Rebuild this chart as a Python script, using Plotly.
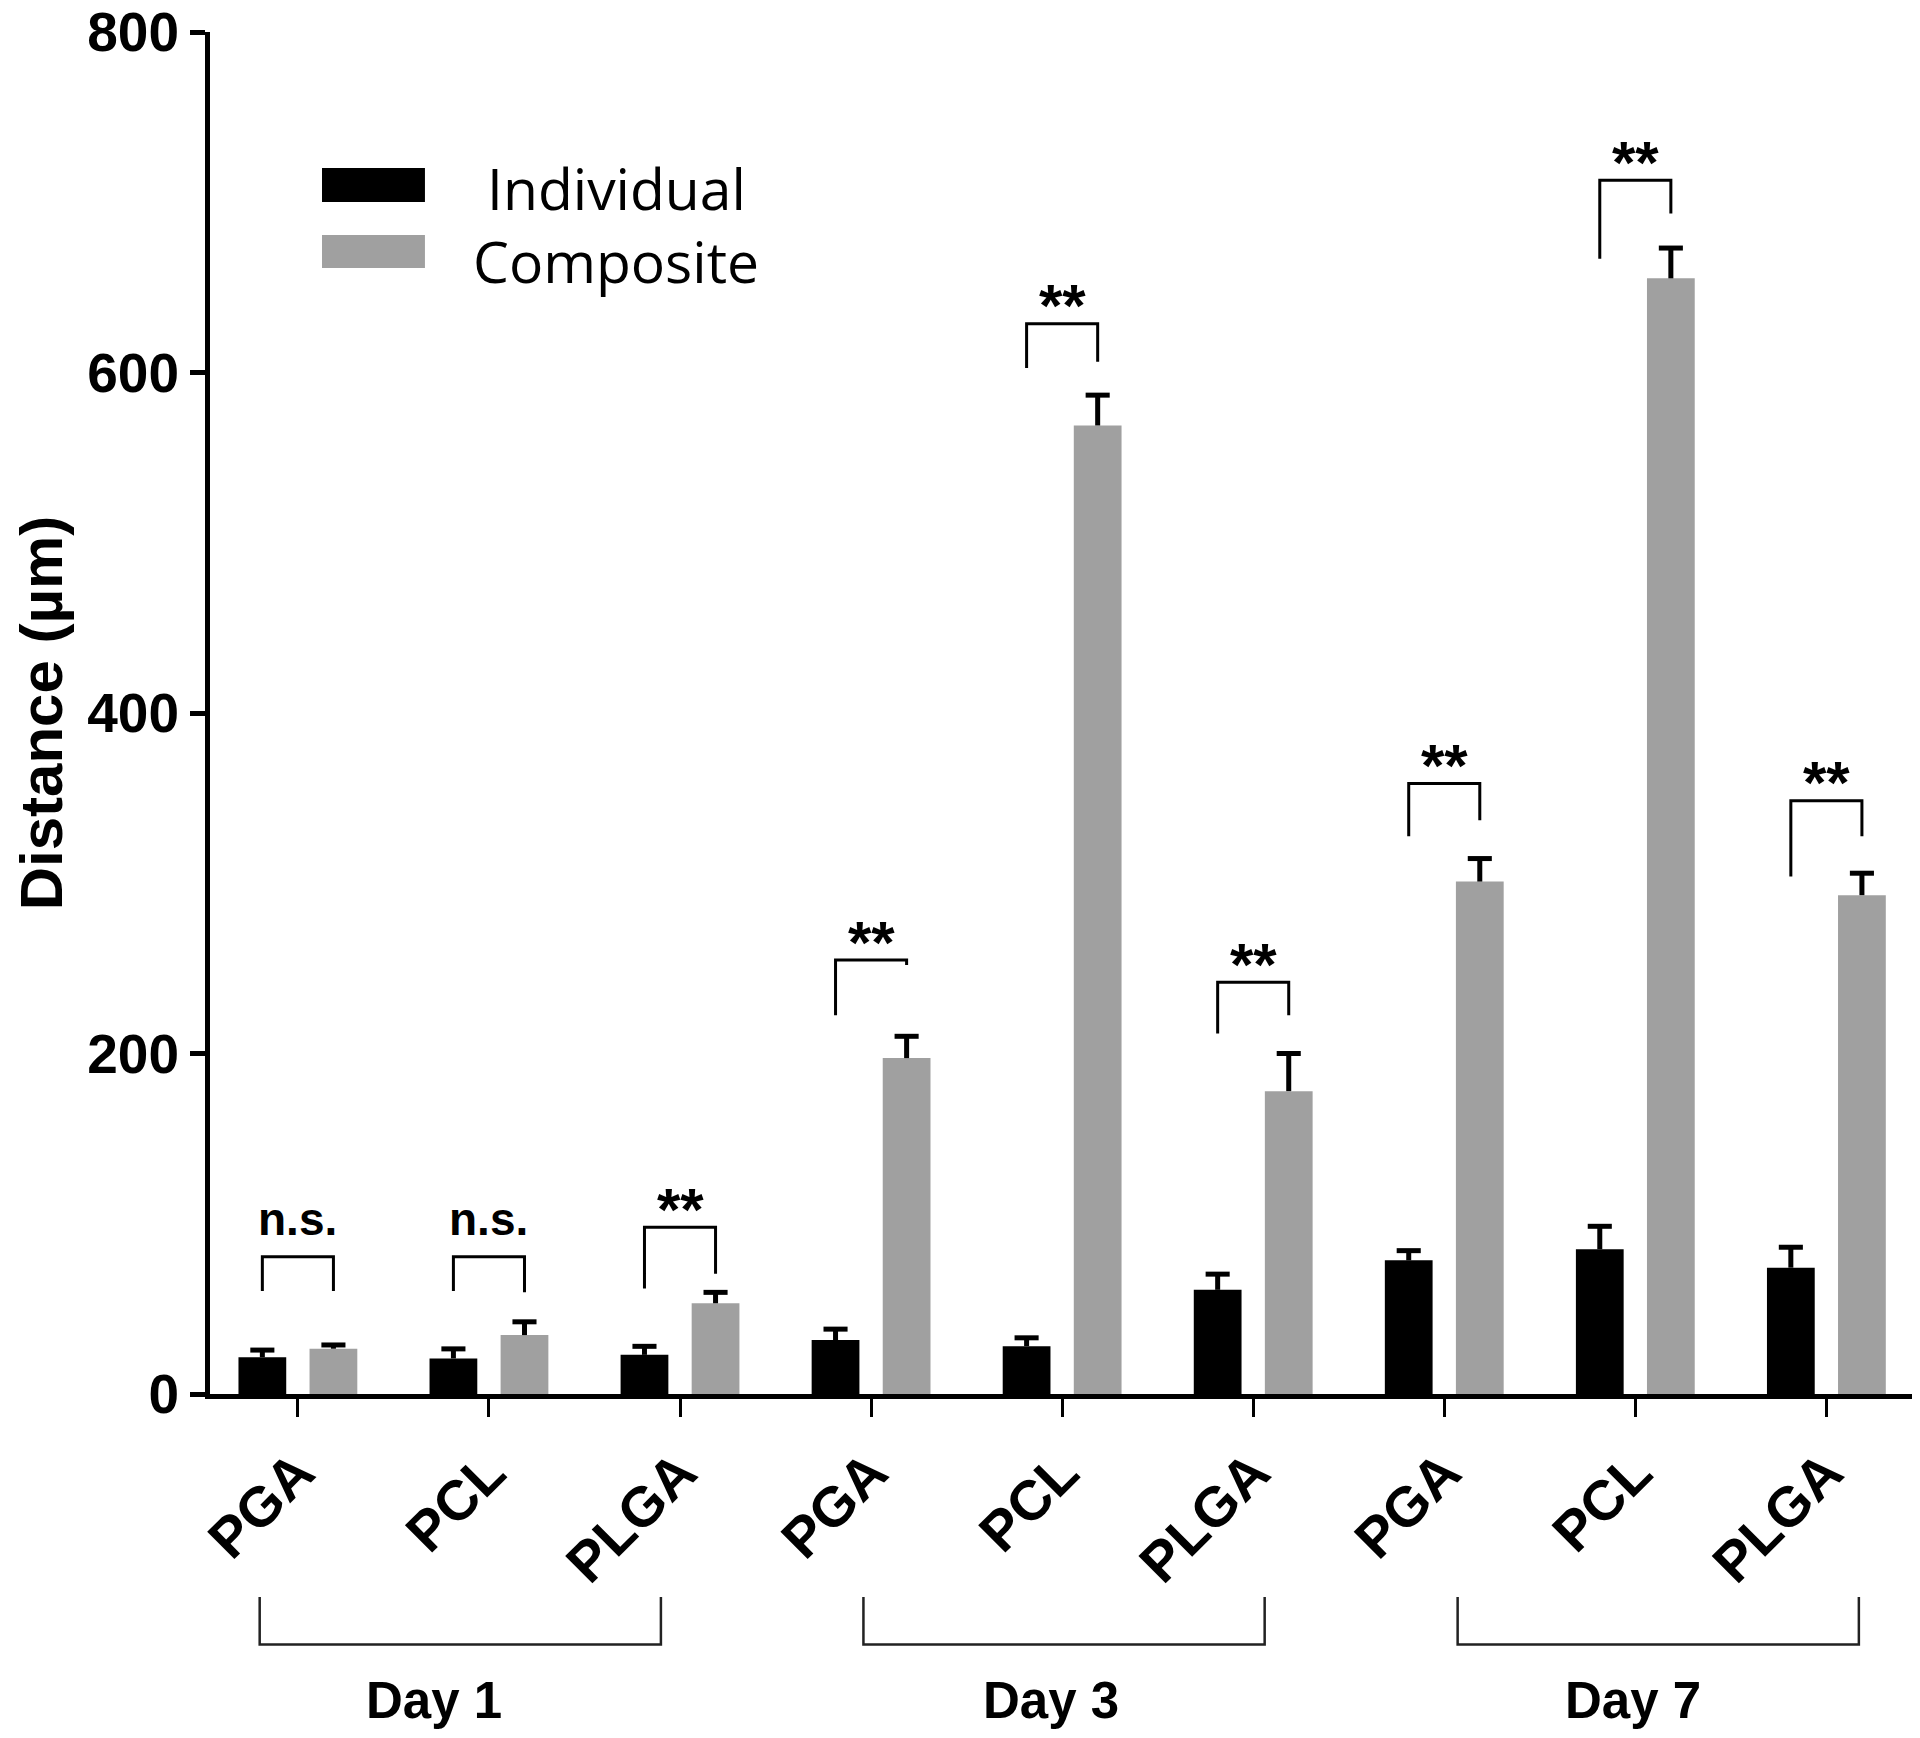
import plotly.graph_objects as go

materials = ["PGA", "PCL", "PLGA", "PGA", "PCL", "PLGA", "PGA", "PCL", "PLGA"]
days = ["Day 1", "Day 3", "Day 7"]

individual = [21.6, 20.9, 23.0, 31.7, 28.1, 61.2, 78.5, 85.0, 74.2]
individual_err = [4.2, 5.6, 5.0, 6.4, 4.9, 9.2, 5.7, 13.5, 12.0]
composite = [26.6, 34.6, 53.3, 197.3, 568.9, 177.9, 301.0, 655.3, 293.0]
composite_err = [2.2, 7.8, 6.4, 12.8, 17.8, 22.1, 13.5, 17.8, 12.9]

sig_labels = ["n.s.", "n.s.", "**", "**", "**", "**", "**", "**", "**"]
sig_top = [80.6, 80.6, 97.9, 254.9, 628.6, 241.9, 358.6, 712.9, 348.5]
sig_left = [60.5, 60.5, 61.9, 222.5, 602.7, 211.7, 327.6, 666.8, 303.9]
sig_right = [60.5, 59.8, 70.6, 252.0, 606.3, 222.5, 337.0, 693.4, 327.6]

FONT = "Liberation Sans, Arial, sans-serif"
BLACK = "#000000"
GREY = "#a0a0a0"
off = 0.186      # bar centre offset from tick
bw = 0.25        # bar width
cw = 0.063       # error cap half width

xs = list(range(len(materials)))
x_ind = [i - off for i in xs]
x_comp = [i + off for i in xs]

fig = go.Figure()
fig.add_trace(go.Bar(x=x_ind, y=individual, width=bw, name="Individual",
                     marker=dict(color=BLACK, line_width=0)))
fig.add_trace(go.Bar(x=x_comp, y=composite, width=bw, name="Composite",
                     marker=dict(color=GREY, line_width=0)))

# upper-only error bars
ex, ey = [], []
for xv, v, e in list(zip(x_ind, individual, individual_err)) + list(zip(x_comp, composite, composite_err)):
    ex += [xv, xv, None, xv - cw, xv + cw, None]
    ey += [v, v + e, None, v + e, v + e, None]
fig.add_trace(go.Scatter(x=ex, y=ey, mode="lines", line=dict(color=BLACK, width=5),
                         hoverinfo="skip", cliponaxis=False))

# significance brackets
bx, by = [], []
for i in xs:
    bx += [x_ind[i], x_ind[i], x_comp[i], x_comp[i], None]
    by += [sig_left[i], sig_top[i], sig_top[i], sig_right[i], None]
fig.add_trace(go.Scatter(x=bx, y=by, mode="lines", line=dict(color=BLACK, width=3),
                         hoverinfo="skip", cliponaxis=False))

for i in xs:
    star = sig_labels[i] == "**"
    fig.add_annotation(x=i, y=sig_top[i], xref="x", yref="y", text=sig_labels[i],
                       showarrow=False, yanchor="middle",
                       yshift=18 if star else 38,
                       font=dict(family=FONT, size=60 if star else 46, color=BLACK,
                                 weight="bold"))

# day group brackets below axis
groups = [(-0.2, 1.9, 0.71), (2.96, 5.06, 3.94), (6.07, 8.17, 6.99)]
for (g0, g1, gl), d in zip(groups, days):
    fig.add_shape(type="path", xref="x", yref="paper",
                  path=f"M {g0},-0.149 L {g0},-0.184 L {g1},-0.184 L {g1},-0.149",
                  line=dict(color="#222222", width=2.5))
    fig.add_annotation(x=gl, y=-0.225, xref="x", yref="paper", text=d, showarrow=False,
                       yanchor="middle",
                       font=dict(family=FONT, size=51, color=BLACK, weight="bold"))

# legend drawn by hand
fig.add_shape(type="rect", xref="paper", yref="paper", x0=0.0655, x1=0.1257,
              y0=0.8752, y1=0.9001, fillcolor=BLACK, line_width=0)
fig.add_shape(type="rect", xref="paper", yref="paper", x0=0.0655, x1=0.1257,
              y0=0.8267, y1=0.851, fillcolor=GREY, line_width=0)
for txt, yy in [("Individual", 0.8855), ("Composite", 0.8319)]:
    fig.add_annotation(x=0.2375, y=yy, xref="paper", yref="paper", text=txt,
                       showarrow=False, xanchor="center", yanchor="middle",
                       font=dict(family="Open Sans, sans-serif", size=57, color=BLACK))

fig.update_layout(
    width=1920, height=1738,
    margin=dict(l=202, r=8, t=24, b=352, autoexpand=False),
    paper_bgcolor="white", plot_bgcolor="white",
    barmode="overlay", showlegend=False,
    font=dict(family=FONT, color=BLACK),
)
fig.update_xaxes(range=[-0.46, 8.49], tickmode="array", tickvals=xs, ticktext=materials,
                 tickangle=-45, showline=True, linecolor=BLACK, linewidth=5,
                 ticks="outside", ticklen=18, tickwidth=3, tickcolor=BLACK,
                 showgrid=False, zeroline=False, ticklabeloverflow="allow",
                 automargin=False,
                 tickfont=dict(family=FONT, size=56, color=BLACK, weight="bold"))
fig.update_yaxes(range=[0, 800], tickvals=[0, 200, 400, 600, 800],
                 showline=True, linecolor=BLACK, linewidth=5,
                 ticks="outside", ticklen=15, tickwidth=5, tickcolor=BLACK,
                 showgrid=False, zeroline=False, ticklabeloverflow="allow",
                 automargin=False,
                 tickfont=dict(family=FONT, size=55, color=BLACK, weight="bold"),
                 title=dict(text="Distance (µm)", standoff=28,
                            font=dict(family=FONT, size=60, color=BLACK, weight="bold")))

fig.write_html("out.html")
